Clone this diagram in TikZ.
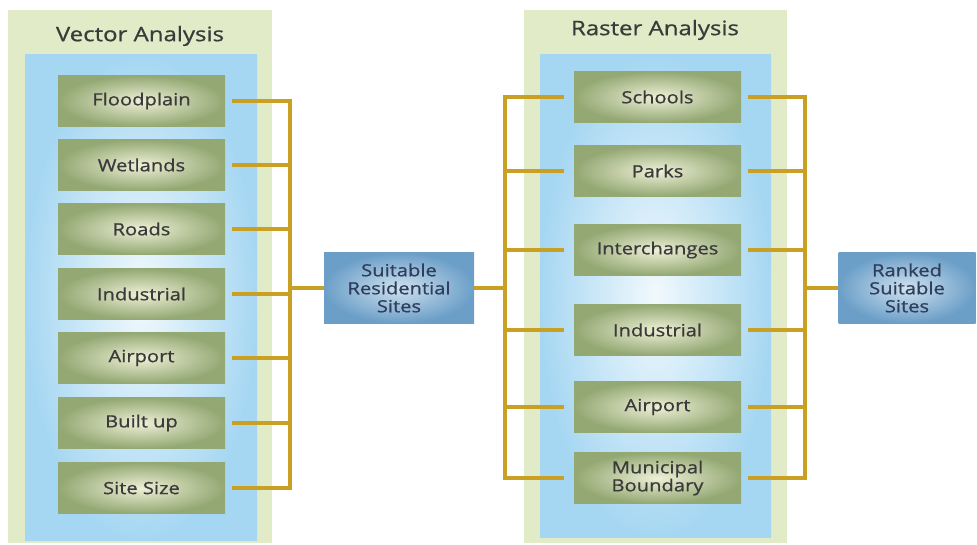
\documentclass[tikz,border=0pt]{standalone}
\usepackage{fontspec}
\setmainfont{Open Sans}[FakeStretch=1.2,FakeBold=0.8]
\usepackage{tikz}
\usetikzlibrary{positioning}

\definecolor{panelgreen}{HTML}{E2EBC8}
\definecolor{panelblue}{HTML}{A6D7F2}
\definecolor{layergreen}{HTML}{93A873}
\definecolor{layerlight}{HTML}{EEF0D6}
\definecolor{sitesblue}{HTML}{6C9FC8}
\definecolor{siteslight}{HTML}{CFE1EE}
\definecolor{linkgold}{HTML}{C9A024}
\definecolor{textgray}{HTML}{3A3A3A}
\definecolor{textnavy}{HTML}{2E3E5C}

\begin{document}
\begin{tikzpicture}[x=1pt,y=-1pt]
\tikzstyle{every node}+=[inner sep=0pt,text=textgray,font=\fontsize{16.8}{18}\selectfont]
\tikzstyle{title}=[font=\fontsize{20}{22}\selectfont]
\tikzstyle{layer}=[minimum width=167pt,minimum height=51pt,inner color=layerlight,outer color=layergreen]
\tikzstyle{sites}=[align=center,text=textnavy,minimum height=70pt,inner color=siteslight,outer color=sitesblue]
\tikzstyle{link}=[draw=linkgold,line width=4pt]
\useasboundingbox (0,0) rectangle (977,545);
\fill [panelgreen] (8,10) rectangle (272,543);
\shade [inner color=white!85!panelblue,outer color=panelblue] (25,55) rectangle (257,540);
\node [title] (vtitle) at (140,36) {Vector Analysis};
\fill [panelgreen] (524,10) rectangle (787,543);
\shade [inner color=white!85!panelblue,outer color=panelblue] (540,55) rectangle (771,537);
\node [title] (rtitle) at (655,30) {Raster Analysis};
\node [layer] (flood) at (141.5,101) {Floodplain};
\node [layer] (wet) at (141.5,165) {Wetlands};
\node [layer] (roads) at (141.5,229) {Roads};
\node [layer] (vind) at (141.5,294) {Industrial};
\node [layer] (vair) at (141.5,358) {Airport};
\node [layer] (built) at (141.5,423) {Built up};
\node [layer] (size) at (141.5,488) {Site Size};
\node [layer] (schools) at (657.5,97) {Schools};
\node [layer] (parks) at (657.5,171) {Parks};
\node [layer] (inter) at (657.5,250) {Interchanges};
\node [layer] (rind) at (657.5,330) {Industrial};
\node [layer] (rair) at (657.5,407) {Airport};
\node [layer,align=center] (muni) at (657.5,478) {Municipal\\Boundary};
\node [sites,minimum width=150pt] (suit) at (399,288) {Suitable\\Residential\\Sites};
\node [sites,minimum width=137pt] (rank) at (907,288) {Ranked\\Suitable\\Sites};
\coordinate (vbus) at (290,0);
\coordinate (lbus) at (505,0);
\coordinate (rbus) at (805,0);
\foreach \n in {flood,wet,roads,vind,vair,built,size}
  \draw [link] ([xshift=7pt]\n.east) -- (\n -| vbus);
\draw [link] ([yshift=2pt]flood -| vbus) -- ([yshift=-2pt]size -| vbus);
\draw [link] (suit.west) -- (suit -| vbus);
\draw [link] (suit.east) -- (suit -| lbus);
\foreach \n in {schools,parks,inter,rind,rair,muni}
  \draw [link] ([xshift=-10pt]\n.west) -- (\n -| lbus);
\draw [link] ([yshift=2pt]schools -| lbus) -- ([yshift=-2pt]muni -| lbus);
\foreach \n in {schools,parks,inter,rind,rair,muni}
  \draw [link] ([xshift=7pt]\n.east) -- (\n -| rbus);
\draw [link] ([yshift=2pt]schools -| rbus) -- ([yshift=-2pt]muni -| rbus);
\draw [link] (rank.west) -- (rank -| rbus);
\end{tikzpicture}
\end{document}
